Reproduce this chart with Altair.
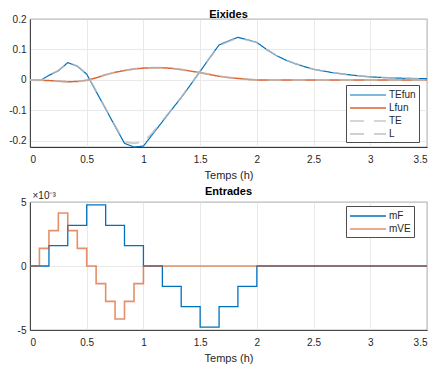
import altair as alt
import pandas as pd

# ---- Eixides (outputs) ----
t_out = [0, 0.1, 0.167, 0.25, 0.333, 0.417, 0.5, 0.583, 0.667, 0.75, 0.833, 0.917,
         1.0, 1.083, 1.167, 1.25, 1.333, 1.417, 1.5, 1.583, 1.667, 1.75, 1.833, 1.917,
         2.0, 2.083, 2.167, 2.25, 2.333, 2.417, 2.5, 2.667, 2.833, 3.0, 3.167, 3.333, 3.5]
tefun = [0, 0, 0.015, 0.030, 0.057, 0.045, 0.019, -0.038, -0.095, -0.152, -0.208, -0.220,
         -0.217, -0.177, -0.137, -0.097, -0.058, -0.015, 0.028, 0.072, 0.115, 0.128, 0.140, 0.132,
         0.123, 0.101, 0.081, 0.066, 0.054, 0.044, 0.035, 0.024, 0.016, 0.010, 0.007, 0.005, 0.004]
te = [0, 0, 0.015, 0.031, 0.056, 0.046, 0.020, -0.036, -0.093, -0.150, -0.204, -0.208,
      -0.204, -0.172, -0.134, -0.095, -0.057, -0.014, 0.029, 0.071, 0.112, 0.126, 0.138, 0.131,
      0.122, 0.100, 0.081, 0.066, 0.054, 0.044, 0.035, 0.024, 0.016, 0.010, 0.007, 0.005, 0.004]
lfun = [0, -0.001, -0.002, -0.004, -0.006, -0.005, -0.001, 0.007, 0.017, 0.025, 0.031, 0.036,
        0.039, 0.040, 0.040, 0.038, 0.034, 0.029, 0.024, 0.018, 0.012, 0.008, 0.005, 0.002,
        0.0, 0, 0, 0, 0, 0, 0, 0, 0, 0, 0, 0, 0]
l_out = [0, -0.001, -0.002, -0.004, -0.006, -0.005, -0.001, 0.007, 0.017, 0.025, 0.031, 0.036,
         0.039, 0.040, 0.040, 0.038, 0.034, 0.029, 0.024, 0.018, 0.012, 0.008, 0.005, 0.002,
         0.0, 0, 0, 0, 0, 0, 0, 0, 0, 0, 0, 0, 0]
out_series = ["TEfun", "Lfun", "TE", "L"]

# ---- Entrades (inputs), units of 1e-3 ----
t_mf = [0, 0.167, 0.333, 0.5, 0.667, 0.833, 1.0, 1.167, 1.333, 1.5, 1.667, 1.833, 2.0, 3.5]
mf = [0, 1.59, 3.18, 4.77, 3.18, 1.59, 0, -1.59, -3.18, -4.77, -3.18, -1.59, 0, 0]
t_mve = [0, 0.083, 0.167, 0.25, 0.333, 0.417, 0.5, 0.583, 0.667, 0.75, 0.833, 0.917, 1.0, 3.5]
mve = [0, 1.38, 2.76, 4.14, 2.76, 1.38, 0, -1.38, -2.76, -4.14, -2.76, -1.38, 0, 0]
in_series = ["mF", "mVE"]

x_ticks = [0, 0.5, 1, 1.5, 2, 2.5, 3, 3.5]

BLUE = "#0072BD"
ORANGE = "#D95319"
GRAY = "#BDBDBD"
TXT = "#262626"

rows = []
for k, (name, vals) in enumerate(zip(out_series, [tefun, lfun, te, l_out])):
    for t, v in zip(t_out, vals):
        rows.append({"t": t, "v": v, "series": name, "k": k})
df_out = pd.DataFrame(rows)

rows = []
for k, (name, ts, vals) in enumerate([("mF", t_mf, mf), ("mVE", t_mve, mve)]):
    for t, v in zip(ts, vals):
        rows.append({"t": t, "v": v, "series": name, "k": k})
df_in = pd.DataFrame(rows)

lab = "'' + datum.value"

def xenc():
    return alt.X("t:Q", scale=alt.Scale(domain=[0, 3.5], nice=False, zero=False),
                 axis=alt.Axis(values=x_ticks, title="Temps (h)", labelExpr=lab))

def leg(x, y):
    return alt.Legend(orient="none", legendX=x, legendY=y, title=None, fillColor="white",
                      strokeColor="#4D4D4D", padding=3, labelFontSize=10, labelColor=TXT,
                      symbolType="M-1,0H5", symbolSize=144, rowPadding=1, labelOffset=26,
                      labelLimit=80)

top = alt.Chart(df_out).mark_line().encode(
    x=xenc(),
    y=alt.Y("v:Q", scale=alt.Scale(domain=[-0.22, 0.2], nice=False, zero=False),
            axis=alt.Axis(values=[-0.2, -0.1, 0, 0.1, 0.2], title=None, labelExpr=lab)),
    color=alt.Color("series:N", sort=out_series,
                    scale=alt.Scale(domain=out_series, range=[BLUE, ORANGE, GRAY, GRAY]),
                    legend=leg(316, 66)),
    strokeDash=alt.StrokeDash("series:N", sort=out_series,
                              scale=alt.Scale(domain=out_series, range=[[1, 0], [1, 0], [14, 10], [14, 10]]),
                              legend=leg(316, 66)),
    opacity=alt.Opacity("series:N", sort=out_series,
                        scale=alt.Scale(domain=out_series, range=[1, 0.7, 0.8, 0.8]),
                        legend=leg(316, 66)),
    strokeWidth=alt.StrokeWidth("series:N", sort=out_series,
                                scale=alt.Scale(domain=out_series, range=[1.2, 2.0, 1.8, 1.8]),
                                legend=leg(316, 66)),
    order=alt.Order("k:Q"),
).properties(width=397, height=128,
             title=alt.TitleParams("Eixides", fontSize=11, fontWeight="bold", color="black", offset=-6))

bottom = alt.Chart(df_in).mark_line(interpolate="step-after").encode(
    x=xenc(),
    y=alt.Y("v:Q", scale=alt.Scale(domain=[-5, 5], nice=False, zero=False),
            axis=alt.Axis(values=[-5, 0, 5], title="×10⁻³", labelExpr=lab,
                          titleAngle=0, titleAlign="left", titleBaseline="alphabetic",
                          titleX=2, titleY=-4, titleFontSize=10, titleFontWeight="normal",
                          titleColor=TXT)),
    color=alt.Color("series:N", sort=in_series,
                    scale=alt.Scale(domain=in_series, range=[BLUE, ORANGE]),
                    legend=leg(316, 4)),
    opacity=alt.Opacity("series:N", sort=in_series,
                        scale=alt.Scale(domain=in_series, range=[1, 0.65]),
                        legend=leg(316, 4)),
    strokeWidth=alt.StrokeWidth("series:N", sort=in_series,
                                scale=alt.Scale(domain=in_series, range=[1.3, 1.6]),
                                legend=leg(316, 4)),
).properties(width=397, height=128,
             title=alt.TitleParams("Entrades", fontSize=11, fontWeight="bold", color="black", offset=-7))

chart = alt.vconcat(top, bottom, spacing=4).resolve_scale(
    color="independent", strokeDash="independent", opacity="independent", strokeWidth="independent"
).resolve_legend(color="independent", strokeDash="independent", opacity="independent",
                 strokeWidth="independent").properties(
    padding={"left": 0, "top": 0, "right": 0, "bottom": 0}
).configure(font="Liberation Sans").configure_view(
    stroke=TXT, strokeWidth=0.8
).configure_axis(
    labelFont="Liberation Sans", labelFontSize=10, labelColor=TXT,
    titleFont="Liberation Sans", titleFontSize=11, titleFontWeight="normal", titleColor=TXT,
    grid=True, gridColor="#E3E3E3", gridWidth=0.8, ticks=False, domain=True,
    domainColor=TXT, domainWidth=0.8, labelPadding=5, titlePadding=5
).configure_axisY(labelPadding=4).configure_axisX(labelPadding=7)

chart.save("out.html", embed_options={"renderer": "svg", "actions": False})
